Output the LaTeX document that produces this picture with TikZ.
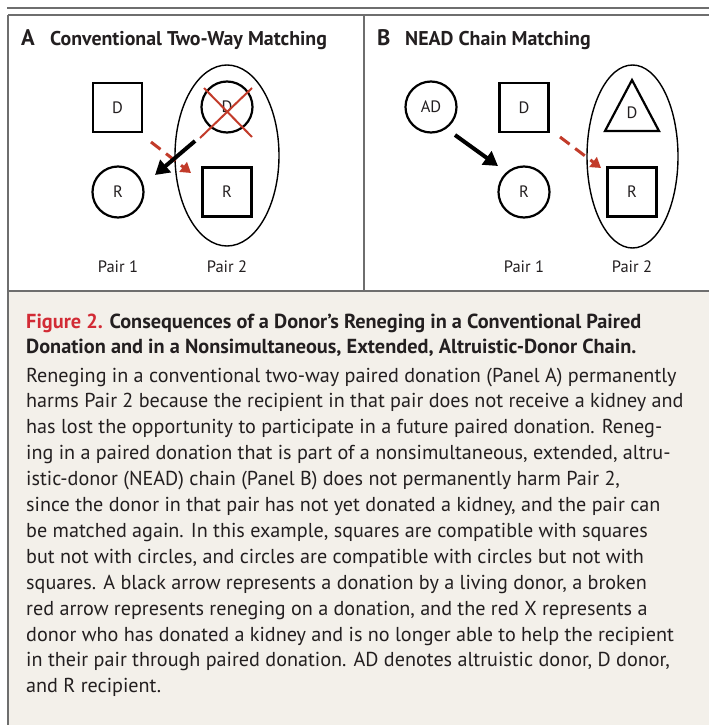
\documentclass[tikz,border=0pt]{standalone}
\usepackage{fontspec}
\setmainfont{PT Sans}
\usetikzlibrary{arrows.meta,shapes.geometric,calc}
\definecolor{framegray}{HTML}{6E6E6E}
\definecolor{capbg}{HTML}{F3F0EA}
\definecolor{redarrow}{HTML}{C23B2A}
\definecolor{figred}{HTML}{D22B35}
\definecolor{txt}{HTML}{231F20}
\begin{document}
\begin{tikzpicture}[x=1pt,y=-1pt,
  sqnode/.style={draw=black, line width=2.2pt, minimum size=49pt, inner sep=0pt, font=\fontsize{16.5}{18}\selectfont, text=txt},
  circnode/.style={draw=black, circle, line width=2.2pt, minimum size=51pt, inner sep=0pt, font=\fontsize{16.5}{18}\selectfont, text=txt},
  pairell/.style={draw=black, ellipse, line width=1.4pt, inner sep=0pt},
  lbl/.style={font=\fontsize{16.5}{18}\selectfont, text=txt, inner sep=0pt},
  blkarrow/.style={draw=black, line width=4pt, -{Triangle[length=14pt,width=16pt]}},
  redarr/.style={draw=redarrow, line width=3pt, dash pattern=on 12pt off 7pt, -{Triangle[length=10pt,width=12pt]}},
  redx/.style={draw=redarrow, line width=2pt},
  frameline/.style={draw=framegray, line width=2pt},
  ptitle/.style={anchor=base west, inner sep=0pt, text=txt, font=\fontsize{19.9}{22}\selectfont\bfseries},
  pletter/.style={anchor=base west, inner sep=0pt, text=txt, font=\fontsize{22.5}{24}\selectfont\bfseries},
  capline/.style={anchor=base west, inner sep=0pt, text=txt, font=\fontsize{20.15}{22}\selectfont},
  captitle/.style={anchor=base west, inner sep=0pt, text=txt, font=\fontsize{20.3}{22}\selectfont\bfseries}
]
\useasboundingbox (0,0) rectangle (709,725);
% backgrounds
\fill[white] (0,0) rectangle (709,725);
\fill[capbg] (8,291) rectangle (709,725);
% frame
\draw[frameline] (7,8) -- (709,8);
\draw[frameline] (8,15) -- (709,15);
\draw[frameline] (8,15) -- (8,725);
\draw[frameline] (364,15) -- (364,291);
\draw[frameline] (8,291) -- (709,291);

% Panel A
\node[pletter] (letA) at (21,45.5) {A};
\node[ptitle] (titA) at (50,45.5) {Conventional Two-Way Matching};
\node[pairell, minimum width=104pt, minimum height=181pt] (eA) at (227,155.5) {};
\node[sqnode] (dA1) at (117.5,107.5) {D};
\node[circnode] (dA2) at (227,107) {D};
\node[circnode] (rA1) at (118,192) {R};
\node[sqnode] (rA2) at (227,192) {R};
\draw[redx] ([shift={(-23,-19)}]dA2.center) -- ([shift={(25,30)}]dA2.center);
\draw[redx] ([shift={(25,-19)}]dA2.center) -- ([shift={(-27,31)}]dA2.center);
\draw[redarr] ([shift={(33.5,34.5)}]dA1.center) -- ([shift={(-36,-19)}]rA2.center);
\draw[blkarrow] ([shift={(-32,34)}]dA2.center) -- ([shift={(37,-17)}]rA1.center);
\node[lbl] (pA1) at (118,267) {Pair 1};
\node[lbl] (pA2) at (227,267) {Pair 2};

% Panel B
\node[pletter] (letB) at (377,45.5) {B};
\node[ptitle] (titB) at (405,45.5) {NEAD Chain Matching};
\node[pairell, minimum width=91pt, minimum height=183pt] (eB) at (632.5,156.5) {};
\node[circnode] (adB) at (431,107) {AD};
\node[sqnode] (dB1) at (524,107.5) {D};
\draw[draw=black, line width=2.2pt, line join=miter] (632,80) -- (659,131) -- (605,131) -- cycle;
\node[lbl] (dB2) at (632,113) {D};
\node[circnode] (rB1) at (524,192) {R};
\node[sqnode] (rB2) at (632,192) {R};
\draw[blkarrow] ([shift={(24,28)}]adB.center) -- ([shift={(-26,-26)}]rB1.center);
\draw[redarr] ([shift={(36,29.5)}]dB1.center) -- ([shift={(-31,-24)}]rB2.center);
\node[lbl] (pB1) at (524,267) {Pair 1};
\node[lbl] (pB2) at (632,267) {Pair 2};

% Caption
\node[captitle] (ct1) at (26,328) {\textcolor{figred}{Figure 2.} Consequences of a Donor’s Reneging in a Conventional Paired};
\node[captitle] (ct2) at (26,353) {Donation and in a Nonsimultaneous, Extended, Altruistic-Donor Chain.};
\node[capline] (c1) at (26,382) {Reneging in a conventional two-way paired donation (Panel A) permanently};
\node[capline] (c2) at (26,407.9) {harms Pair 2 because the recipient in that pair does not receive a kidney and};
\node[capline] (c3) at (26,433.8) {has lost the opportunity to participate in a future paired donation. Reneg-};
\node[capline] (c4) at (26,459.7) {ing in a paired donation that is part of a nonsimultaneous, extended, altru-};
\node[capline] (c5) at (26,485.6) {istic-donor (NEAD) chain (Panel B) does not permanently harm Pair 2,};
\node[capline] (c6) at (26,511.5) {since the donor in that pair has not yet donated a kidney, and the pair can};
\node[capline] (c7) at (26,537.4) {be matched again. In this example, squares are compatible with squares};
\node[capline] (c8) at (26,563.3) {but not with circles, and circles are compatible with circles but not with};
\node[capline] (c9) at (26,589.2) {squares. A black arrow represents a donation by a living donor, a broken};
\node[capline] (c10) at (26,615.1) {red arrow represents reneging on a donation, and the red X represents a};
\node[capline] (c11) at (26,641) {donor who has donated a kidney and is no longer able to help the recipient};
\node[capline] (c12) at (26,666.9) {in their pair through paired donation. AD denotes altruistic donor, D donor,};
\node[capline] (c13) at (26,692.8) {and R recipient.};
\end{tikzpicture}
\end{document}
